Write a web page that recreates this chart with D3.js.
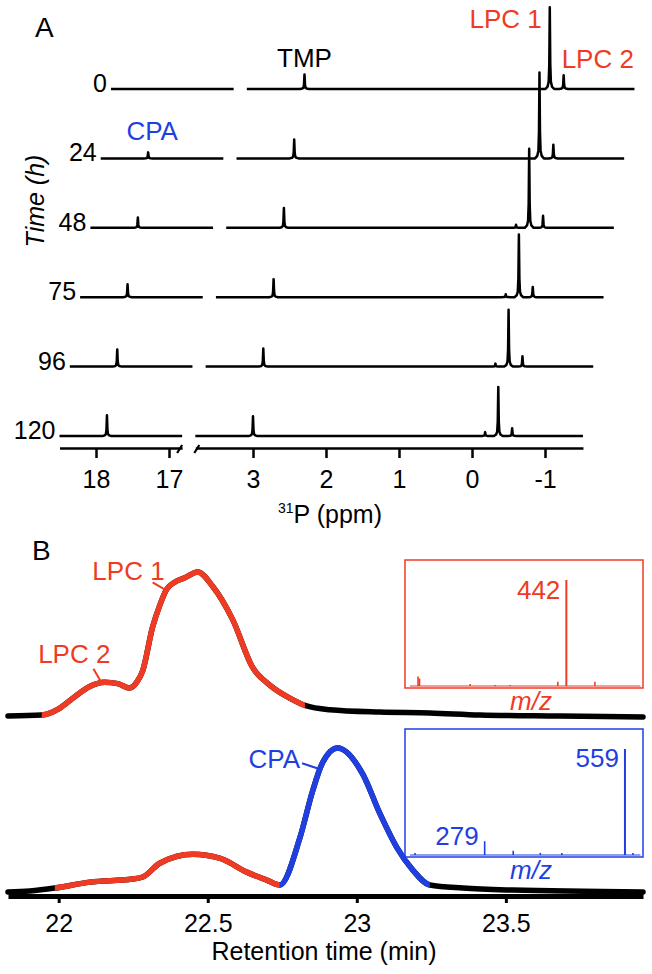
<!DOCTYPE html>
<html>
<head>
<meta charset="utf-8">
<script src="https://cdn.jsdelivr.net/npm/d3@7"></script>
<style>
  body { margin: 0; background: #fff; }
  svg { display: block; font-family: "Liberation Sans", Arial, Helvetica, sans-serif; }
</style>
</head>
<body>
<svg id="fig" width="652" height="974"></svg>
<script>
// ---- panel A data: 31P NMR, peak heights per time point ----
var times = [0, 24, 48, 75, 96, 120];
var peakPpm = [17.85, 3.0, -0.18, -0.36, -0.55];   // CPA, TMP, minor, LPC 1, LPC 2
var cpaHeight = [0, 7, 12, 15, 20, 24];
var tmpHeight = [17, 22, 23, 21, 21, 23];
var minorHeight = [0, 0, 3.5, 3.5, 3.5, 4.5];
var lpc1Height = [95, 100, 92, 73, 66, 57];
var lpc2Height = [16, 16, 14, 12, 12, 9];
var ppmLeftTicks = [18, 17];
var ppmRightTicks = [3, 2, 1, 0, -1];

// ---- panel B data: chromatograms ----
var lpcTime = [21.83, 21.943, 22.003, 22.054, 22.104, 22.154, 22.198, 22.238, 22.262, 22.282, 22.315, 22.339, 22.362, 22.389, 22.423, 22.466, 22.517, 22.584, 22.651, 22.708, 22.775, 22.826, 22.909, 23.077, 23.245, 23.413, 23.68, 23.96];
var lpcInt = [0.7, 1.4, 6, 14, 21, 24, 23, 20, 24, 32, 62, 77, 88, 93, 96, 100, 90, 67, 34, 22, 13, 8, 5, 3.4, 2.8, 1.4, 0.7, 0];
var cpaTime = [21.83, 21.903, 21.987, 22.104, 22.248, 22.282, 22.339, 22.45, 22.54, 22.631, 22.698, 22.742, 22.809, 22.852, 22.883, 22.936, 23.02, 23.077, 23.134, 23.188, 23.245, 23.356, 23.523, 23.96];
var cpaInt = [0.7, 1.4, 3.4, 7.5, 9.6, 11, 20.5, 26.7, 24, 14.4, 8.9, 5.5, 38, 70.5, 89, 100, 82, 55, 31.5, 15.8, 5.5, 3.4, 2, 0.7];
var rtTicks = [22, 22.5, 23, 23.5];

// mass spectra insets
var redMz = [146, 149, 250, 300, 330, 425, 442, 499];
var redInt = [9, 7, 2, 1, 1, 4, 100, 4];
var blueMz = [140, 279, 336, 390, 433, 559, 575];
var blueInt = [2, 13, 4, 2, 2, 100, 2];

var red = "#ef3b24", blue = "#1f3fe0";
var svg = d3.select("#fig");
var defs = svg.append("defs");

// ================= panel A =================
var ppmPx = 73;
var xL = d3.scaleLinear().domain([18.5, 16.82]).range([96 - 0.5 * ppmPx, 96 + 1.18 * ppmPx]);
var xR = d3.scaleLinear().domain([3.79, -1.52]).range([253 - 0.79 * ppmPx, 253 + 4.52 * ppmPx]);
var yA = d3.scaleLinear().domain([0, 100]).range([0, -86]);
var stepX = 10.3, stepY = 69.4, base120 = 436;

var peakShapeDx = [-0.06, -0.03, -0.015, -0.007, 0, 0.007, 0.015, 0.03, 0.06];
var peakShapeRel = [0, 0.03, 0.09, 0.3, 1, 0.3, 0.09, 0.03, 0];
var heights = [cpaHeight, tmpHeight, minorHeight, lpc1Height, lpc2Height];

function segmentPoints(scale, i) {
  var dom = scale.domain();
  var pts = [[dom[0], 0]];
  peakPpm.forEach(function(p, j) {
    var h = heights[j][i];
    if (h <= 0 || p > dom[0] || p < dom[1]) return;
    peakShapeDx.forEach(function(d, k) { pts.push([p + d, h * peakShapeRel[k]]); });
  });
  pts.push([dom[1], 0]);
  pts.sort(function(a, b) { return b[0] - a[0]; });
  return pts;
}

var gA = svg.append("g");
times.forEach(function(t, i) {
  var k = times.length - 1 - i;
  var g = gA.append("g").attr("transform", "translate(" + (k * stepX) + "," + (base120 - k * stepY) + ")");
  [xL, xR].forEach(function(sc) {
    var line = d3.line().x(function(d) { return sc(d[0]); }).y(function(d) { return yA(d[1]); });
    g.append("path").attr("d", line(segmentPoints(sc, i)))
      .attr("fill", "none").attr("stroke", "#000").attr("stroke-width", 2.5)
      .attr("stroke-linejoin", "round");
  });
  g.append("text").attr("x", xL.range()[0] - 4).attr("y", 3)
    .attr("text-anchor", "end").attr("font-size", 25).text(t);
});

// peak labels on the top traces
var top0 = base120 - 5 * stepY, kx0 = 5 * stepX;
gA.append("text").attr("x", xR(3.0) + kx0).attr("y", top0 - 22).attr("text-anchor", "middle")
  .attr("font-size", 26).text("TMP");
gA.append("text").attr("x", xR(-0.36) + kx0 - 8).attr("y", top0 - 61).attr("text-anchor", "end")
  .attr("font-size", 26).attr("fill", red).text("LPC 1");
gA.append("text").attr("x", xR(-0.55) + kx0 - 2).attr("y", top0 - 21)
  .attr("font-size", 26).attr("fill", red).text("LPC 2");
gA.append("text").attr("x", xL(17.85) + 4 * stepX + 4).attr("y", base120 - 4 * stepY - 18)
  .attr("text-anchor", "middle").attr("font-size", 26).attr("fill", blue).text("CPA");

// broken ppm axis
var axY = 448;
function styleAxis(sel, fs) {
  sel.select(".domain").attr("stroke-width", 2.5);
  sel.selectAll(".tick line").attr("stroke-width", 2.5);
  sel.selectAll(".tick text").attr("font-size", fs).attr("font-family", null);
}
gA.append("g").attr("transform", "translate(0," + axY + ")")
  .call(d3.axisBottom(xL).tickValues(ppmLeftTicks).tickSize(10).tickSizeOuter(0).tickPadding(12).tickFormat(String))
  .call(styleAxis, 25);
gA.append("g").attr("transform", "translate(0," + axY + ")")
  .call(d3.axisBottom(xR).tickValues(ppmRightTicks).tickSize(10).tickSizeOuter(0).tickPadding(12).tickFormat(String))
  .call(styleAxis, 25);
[xL.range()[1], xR.range()[0]].forEach(function(bx, n) {
  var off = n === 0 ? -2 : 2;
  gA.append("line").attr("x1", bx + off - 3).attr("y1", axY + 5).attr("x2", bx + off + 2).attr("y2", axY - 3)
    .attr("stroke", "#000").attr("stroke-width", 2.2);
});
var xt = gA.append("text").attr("x", 330).attr("y", 523).attr("text-anchor", "middle").attr("font-size", 25);
xt.append("tspan").attr("font-size", 14).attr("dy", -10).text("31");
xt.append("tspan").attr("dy", 10).text("P (ppm)");

gA.append("text").attr("transform", "translate(44,201) rotate(-90)").attr("text-anchor", "middle")
  .attr("font-size", 25).attr("font-style", "italic").text("Time (h)");
svg.append("text").attr("x", 35).attr("y", 37).attr("font-size", 28).text("A");

// ================= panel B =================
var gB = svg.append("g");
svg.append("text").attr("x", 32).attr("y", 560).attr("font-size", 28).text("B");
var xB = d3.scaleLinear().domain([21.83, 23.96]).range([8, 643]);
var yB = d3.scaleLinear().domain([0, 100]).range([0, -145]);
var topBase = 717, botBase = 893;
var clipN = 0;

function drawChrom(tArr, iArr, baseY, segs) {
  var pts = tArr.map(function(t, n) { return [t, iArr[n]]; });
  var g = gB.append("g").attr("transform", "translate(0," + baseY + ")");
  var line = d3.line().curve(d3.curveMonotoneX)
    .x(function(d) { return xB(d[0]); }).y(function(d) { return yB(d[1]); });
  var d = line(pts);
  g.append("path").attr("d", d).attr("fill", "none").attr("stroke", "#000")
    .attr("stroke-width", 5.5).attr("stroke-linecap", "round");
  // colour the eluting parts: same path, clipped to the time window
  segs.forEach(function(s) {
    var id = "clip" + (clipN++);
    defs.append("clipPath").attr("id", id).append("rect")
      .attr("x", xB(s[0])).attr("width", xB(s[1]) - xB(s[0]))
      .attr("y", baseY - 200).attr("height", 230);
    gB.append("g").attr("clip-path", "url(#" + id + ")")
      .append("path").attr("transform", "translate(0," + baseY + ")").attr("d", d)
      .attr("fill", "none").attr("stroke", s[2]).attr("stroke-width", 5.5);
  });
}

// x axis under the lower trace
var axB = gB.append("g").attr("transform", "translate(0,896)")
  .call(d3.axisBottom(xB).tickValues(rtTicks).tickSize(7).tickSizeOuter(0).tickPadding(11).tickFormat(String));
axB.select(".domain").attr("stroke-width", 5);
axB.selectAll(".tick line").attr("stroke-width", 3);
axB.selectAll(".tick text").attr("font-size", 25).attr("font-family", null);
gB.append("text").attr("x", 324).attr("y", 960).attr("text-anchor", "middle").attr("font-size", 25)
  .text("Retention time (min)");

drawChrom(lpcTime, lpcInt, topBase, [[21.943, 22.826, red]]);
drawChrom(cpaTime, cpaInt, botBase, [[21.987, 22.742, red], [22.742, 23.245, blue]]);

// annotations with leader lines
var annText = ["LPC 2", "LPC 1", "CPA"];
var annTime = [22.14, 22.362, 22.87];
var annInt = [23, 88, 86];
var annBase = [topBase, topBase, botBase];
var annColor = [red, red, blue];
var annLine = [[-7, -15, 0, -3], [-14, -7, -2, 0], [-16, -5, -1, 0]];
var annTextOff = [[10, -21], [-2, -9], [-18, 0]];
annText.forEach(function(s, n) {
  var ax = xB(annTime[n]), ay = annBase[n] + yB(annInt[n]);
  var L = annLine[n];
  gB.append("line").attr("x1", ax + L[0]).attr("y1", ay + L[1]).attr("x2", ax + L[2]).attr("y2", ay + L[3])
    .attr("stroke", annColor[n]).attr("stroke-width", 2);
  gB.append("text").attr("x", ax + annTextOff[n][0]).attr("y", ay + annTextOff[n][1])
    .attr("text-anchor", "end").attr("font-size", 26).attr("fill", annColor[n]).text(s);
});

// mass spectrum insets
var xMz = d3.scaleLinear().domain([120, 595]).range([405, 643]);
var yMz = d3.scaleLinear().domain([0, 100]).range([0, -106]);
function drawInset(top, mz, inten, col, labels) {
  var h = 128, g = gB.append("g");
  g.append("rect").attr("x", xMz.range()[0]).attr("y", top).attr("width", xMz.range()[1] - xMz.range()[0])
    .attr("height", h).attr("fill", "none").attr("stroke", col).attr("stroke-width", 1.5);
  var base = top + h - 2;
  g.append("line").attr("x1", xMz(130)).attr("x2", xMz(590)).attr("y1", base).attr("y2", base)
    .attr("stroke", col).attr("stroke-width", 1);
  g.selectAll(".pk").data(mz).enter().append("line")
    .attr("x1", function(d) { return xMz(d); }).attr("x2", function(d) { return xMz(d); })
    .attr("y1", base).attr("y2", function(d, n) { return base + yMz(inten[n]); })
    .attr("stroke", col).attr("stroke-width", function(d, n) { return inten[n] > 50 ? 2 : 1.6; });
  labels.forEach(function(l) {
    var n = mz.indexOf(l[0]);
    g.append("text").attr("x", xMz(l[0]) - 6).attr("y", base + yMz(inten[n]) + l[1])
      .attr("text-anchor", "end").attr("font-size", 26).attr("fill", col).text(l[0]);
  });
  g.append("text").attr("x", 531).attr("y", top + h + 22).attr("text-anchor", "middle")
    .attr("font-size", 26).attr("font-style", "italic").attr("fill", col).text("m/z");
}
drawInset(560, redMz, redInt, red, [[442, 19]]);
drawInset(729, blueMz, blueInt, blue, [[559, 18], [279, 4]]);
</script>
</body>
</html>
